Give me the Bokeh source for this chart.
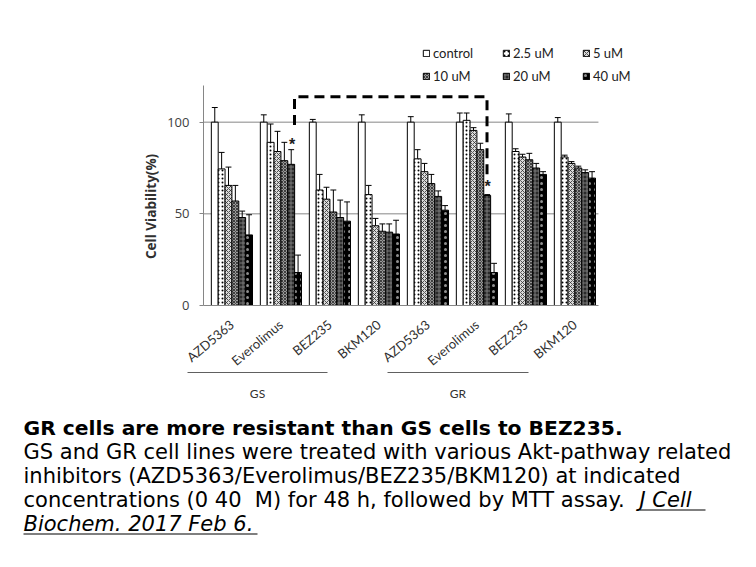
from math import radians, pi
from bokeh.plotting import figure
from bokeh.layouts import column, row
from bokeh.models import Range1d, FixedTicker, Legend, LegendItem, ColumnDataSource
from bokeh.core.properties import value
from bokeh.embed import file_html
from bokeh.resources import INLINE

# ---------------- data ----------------
groups = ["AZD5363", "Everolimus", "BEZ235", "BKM120",
          "AZD5363", "Everolimus", "BEZ235", "BKM120"]
series_names = ["control", "2.5 uM", "5 uM", "10 uM", "20 uM", "40 uM"]
control = [100, 100, 100, 100, 100, 100, 100, 100]
c2_5 = [74.5, 89, 63, 60.5, 80, 101, 84, 81]
c5 = [65.5, 84, 58, 43.5, 73, 95.5, 81, 77.5]
c10 = [57, 79, 51, 40.5, 66.5, 85, 79.5, 75]
c20 = [48, 77, 48, 40, 59.5, 60, 75, 72.5]
c40 = [38.5, 18, 46, 39, 52, 18, 71.5, 69.5]
e_control = [8, 4, 1.5, 4, 3, 5, 4.5, 2.5]
e2_5 = [9, 10, 8.5, 5, 5, 4, 1.5, 1]
e5 = [10, 11, 6.5, 4, 4.5, 1.5, 1.5, 1]
e10 = [8.5, 10, 12, 4, 5, 3.5, 3.5, 1]
e20 = [3.5, 8, 9.5, 4.5, 3, 0.5, 2.5, 1.5]
e40 = [11, 9.5, 10.5, 7.5, 2.5, 5, 1.5, 3.5]
y_ticks = [0, 50, 100]
grid_values = [50, 100]
cell_groups = ["GS", "GR"]
# significance bracket (x in group units, y in %)
bracket_x = [1.857, 1.857, 5.786, 5.786]
bracket_y = [98.5, 113.8, 113.8, 69.5]
star_x = [1.806, 5.80]
star_y = [87.8, 64.8]

values = [control, c2_5, c5, c10, c20, c40]
errors = [e_control, e2_5, e5, e10, e20, e40]

# ---------------- layout (page pixels) ----------------
W, H = 740, 550
AX_X = 203            # page x of the value axis
ZERO_Y = 305          # page y of value 0
PX_X = 49.0           # px per group
PX_Y = 220 / 120.0    # px per percent
TOP_H = 314           # height of the chart row
YL_W = 160            # width of the y-title strip
XMAX = 8.06

def gx(page_x):
    return (page_x - AX_X) / PX_X

AX = "#868686"

# ---- y title strip ----
fy = figure(width=YL_W, height=TOP_H, output_backend="svg", toolbar_location=None,
            x_axis_type=None, y_axis_type=None, x_range=Range1d(0, YL_W),
            y_range=Range1d(0, TOP_H), min_border=0)
fy.outline_line_color = None
fy.text(x=[150], y=[TOP_H - 212], text=["Cell Viability(%)"], angle=pi / 2,
        text_font=value("Open Sans"), text_font_size="13.5px", text_font_style="bold",
        text_align="center", text_baseline="middle", text_color="#303030")

# ---- main chart ----
TW = W - YL_W
p = figure(width=TW, height=TOP_H, output_backend="svg", toolbar_location=None,
           x_range=Range1d(0, (W - AX_X) / PX_X),
           y_range=Range1d(0, ZERO_Y / PX_Y),
           min_border_left=AX_X - YL_W, min_border_right=0, min_border_top=0,
           min_border_bottom=TOP_H - ZERO_Y)
p.outline_line_color = None
p.xgrid.visible = False
p.ygrid.visible = False

p.yaxis.ticker = FixedTicker(ticks=y_ticks)
p.yaxis.bounds = (0, 120)
p.yaxis.axis_line_color = AX
p.yaxis.major_tick_line_color = AX
p.yaxis.major_tick_out = 4
p.yaxis.major_tick_in = 0
p.yaxis.minor_tick_line_color = None
p.yaxis.major_label_text_font = "Open Sans"
p.yaxis.major_label_text_font_size = "13px"
p.yaxis.major_label_text_color = "#404040"
p.yaxis.major_label_standoff = 10

p.xaxis.ticker = FixedTicker(ticks=[])
p.xaxis.bounds = (gx(199), XMAX)
p.xaxis.axis_line_color = AX
p.xaxis.major_tick_line_color = None
p.xaxis.minor_tick_line_color = None
p.xaxis.major_label_text_font_size = "0px"

# horizontal grid lines at 50 and 100 (only across the plotting area)
p.segment(x0=[0] * len(grid_values), y0=grid_values, x1=[XMAX] * len(grid_values),
          y1=grid_values, line_color=AX, line_width=1)

GOFF, BW = 0.16, 0.14
styles = [
    dict(fill_color="white"),
    dict(fill_color="white", hatch_pattern="dot", hatch_color="black", hatch_scale=4, hatch_weight=1),
    dict(fill_color="#dcdcdc", hatch_pattern="diagonal_cross", hatch_color="#303030", hatch_scale=4, hatch_weight=0.8),
    dict(fill_color="#9a9a9a", hatch_pattern="diagonal_cross", hatch_color="#404040", hatch_scale=3, hatch_weight=1),
    dict(fill_color="#2a2a2a", hatch_pattern="cross", hatch_color="#7a7a7a", hatch_scale=4, hatch_weight=1),
    dict(fill_color="black", hatch_pattern="dot", hatch_color="#909090", hatch_scale=6, hatch_weight=0.5),
]

renderers = []
for j, (vals, errs) in enumerate(zip(values, errors)):
    xs = [i + GOFF + (j + 0.5) * BW for i in range(len(groups))]
    tops = [v + e for v, e in zip(vals, errs)]
    src = ColumnDataSource(dict(x=xs, top=vals, etop=tops,
                                cl=[x - 0.06 for x in xs], cr=[x + 0.06 for x in xs]))
    r = p.vbar(x="x", top="top", bottom=0, width=BW, source=src,
               line_color="black", line_width=1, **styles[j])
    renderers.append(r)
    p.segment(x0="x", y0="top", x1="x", y1="etop", source=src, line_color="black", line_width=1)
    p.segment(x0="cl", y0="etop", x1="cr", y1="etop", source=src, line_color="black", line_width=1)

# significance bracket and stars
p.line(bracket_x, bracket_y, line_color="black", line_width=3, line_dash="10 6")
p.text(x=star_x, y=star_y, text=["*", "*"], text_font=value("Liberation Sans"),
       text_font_size="16px", text_font_style="bold", text_align="center",
       text_baseline="middle", text_color="#202020")

legend = Legend(items=[LegendItem(label=n, renderers=[r]) for n, r in zip(series_names, renderers)],
                location=(219, 218), orientation="horizontal", ncols=3,
                glyph_width=8, glyph_height=8, label_standoff=3, label_width=69,
                label_height=23, spacing=0, padding=0, margin=0,
                border_line_color=None, background_fill_alpha=0,
                label_text_font="Lato", label_text_font_size="13px",
                label_text_color="#222222")
p.add_layout(legend)

# ---- lower part: category labels, cell-line brackets, caption ----
BH = H - TOP_H
def by(page_y):
    return H - page_y

fb = figure(width=W, height=BH, output_backend="svg", toolbar_location=None,
            x_axis_type=None, y_axis_type=None,
            x_range=Range1d(-AX_X / PX_X, (W - AX_X) / PX_X), y_range=Range1d(0, BH),
            min_border=0)
fb.outline_line_color = None

fb.text(x=[i + GOFF + 3 * BW for i in range(len(groups))], y=[by(322)] * len(groups),
        text=groups, angle=radians(40), text_font=value("Lato"), text_font_size="13px",
        text_color="#303030", text_align="right", text_baseline="middle")

bx0 = [gx(187), gx(387)]
bx1 = [gx(327), gx(528)]
fb.segment(x0=bx0, y0=[by(372)] * 2, x1=bx1, y1=[by(372)] * 2, line_color="#606060", line_width=1)
fb.text(x=[(a + b) / 2 for a, b in zip(bx0, bx1)], y=[by(393)] * 2, text=cell_groups,
        text_font=value("Lato"), text_font_size="12px", text_color="#303030",
        text_align="center", text_baseline="middle")

# caption (baselines in page px; text drawn with middle alignment)
cap_font = value("DejaVu Sans")
MID = 7
cap_lines = [
    ("GR cells are more resistant than GS cells to BEZ235.", "bold", "20.3px", 434),
    ("GS and GR cell lines were treated with various Akt-pathway related", "normal", "21px", 458),
    ("inhibitors (AZD5363/Everolimus/BEZ235/BKM120) at indicated", "normal", "21px", 482),
    ("concentrations (0 40\u00a0\u00a0M) for 48 h, followed by MTT assay.", "normal", "21px", 506),
    ("Biochem. 2017 Feb 6.", "italic", "21px", 530),
]
for txt, style, size, base in cap_lines:
    fb.text(x=[gx(23)], y=[by(base - MID)], text=[txt], text_font=cap_font,
            text_font_size=size, text_font_style=style, text_color="black",
            text_align="left", text_baseline="middle")
fb.text(x=[gx(639)], y=[by(506 - MID)], text=["J Cell"], text_font=cap_font,
        text_font_size="21px", text_font_style="italic", text_color="black",
        text_align="left", text_baseline="middle")
ux0 = [gx(639), gx(23)]
ux1 = [gx(705), gx(257)]
uy = [by(509.5), by(533.5)]
fb.segment(x0=ux0, y0=uy, x1=ux1, y1=uy, line_color="black", line_width=1.2)

layout = column(row(fy, p, spacing=0), fb, spacing=0)
open("out.html", "w").write(file_html(layout, INLINE))
